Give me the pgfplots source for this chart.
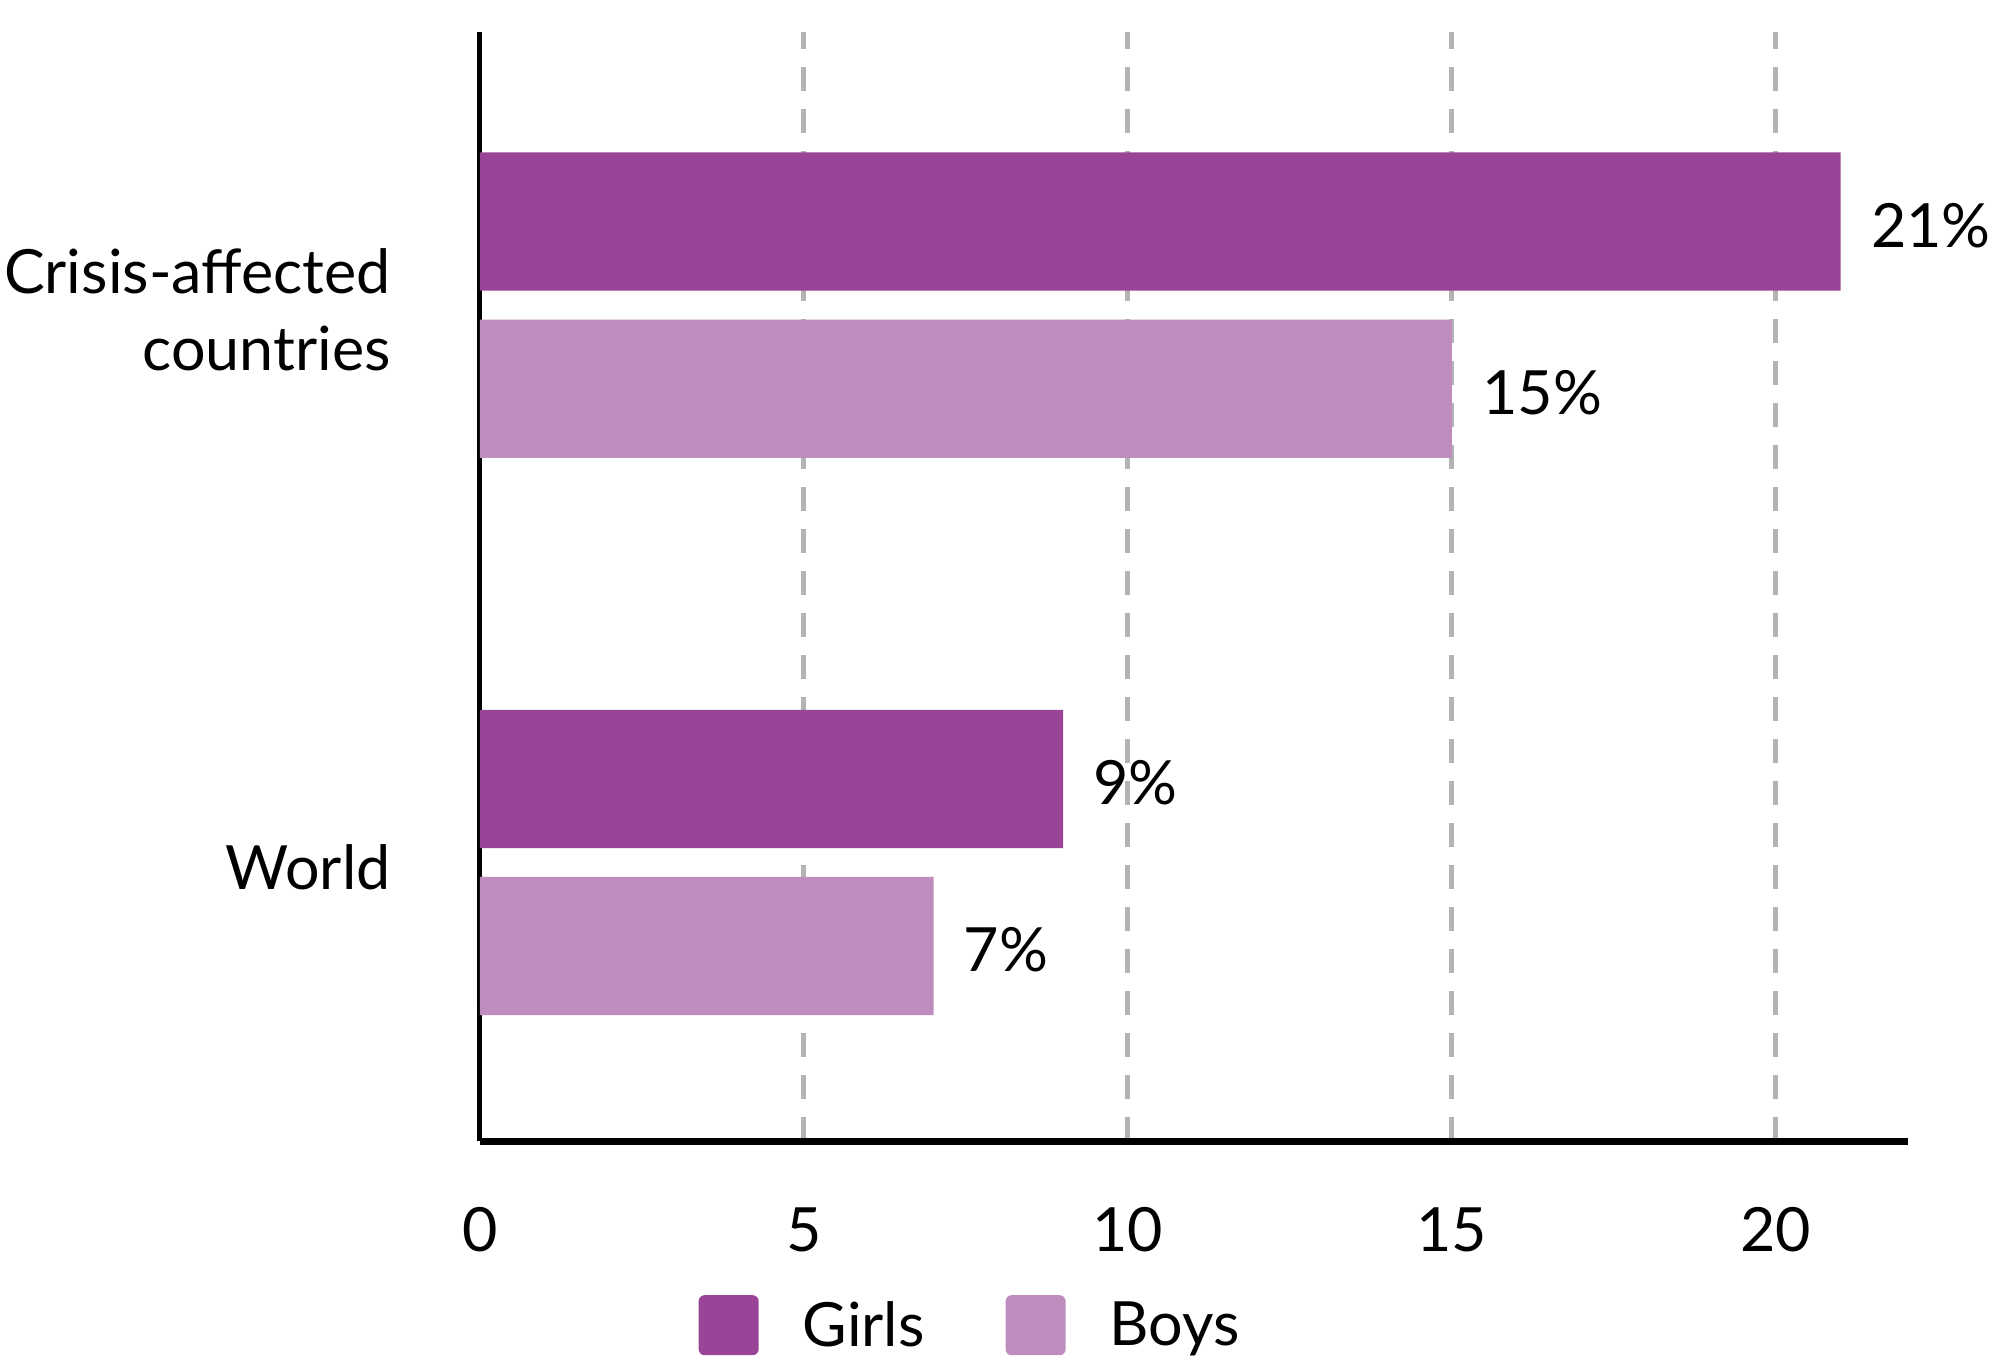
\documentclass[border=0pt]{standalone}
\usepackage{pgfplots}
\pgfplotsset{compat=1.18}
\usepackage{fontspec}
\setmainfont{Lato}
\definecolor{girls}{HTML}{994496}
\definecolor{boys}{HTML}{BF8DBD}
\definecolor{gridgray}{HTML}{B3B3B3}
\newcommand\f{\fontsize{30.5pt}{38.5pt}\selectfont}
\begin{document}
\begin{tikzpicture}[font=\f]
\begin{axis}[
  scale only axis,
  width=714pt, height=554.6pt,
  xmin=0, xmax=22.04,
  ymin=-0.5, ymax=1.49,
  xbar,
  bar width=0.248,
  axis x line*=bottom,
  axis y line*=left,
  x axis line style={line width=3.4pt, black, -},
  y axis line style={line width=2.5pt, black, -},
  xtick={0,5,10,15,20},
  ytick={0,1},
  yticklabels={World,{Crisis-affected\\countries}},
  major tick length=0pt,
  /pgf/number format/assume math mode=true,
  xticklabel style={font=\f, anchor=north, inner sep=0pt, yshift=-33pt},
  yticklabel style={font=\f, anchor=east, inner sep=0pt, xshift=-44.5pt, yshift=-2.5pt, align=right},
  xmajorgrids,
  major grid style={gridgray, line width=2.5pt, dash pattern=on 12pt off 9pt},
  nodes near coords={\pgfmathprintnumber[assume math mode=true]{\pgfplotspointmeta}\%},
  nodes near coords style={font=\f, anchor=west, inner sep=0pt, xshift=15pt, yshift=-2pt, black},
  legend columns=2,
  legend style={draw=none, fill=none, at={(0.3425,0)}, anchor=center, yshift=-92pt,
    font=\f,
    nodes={inner sep=0pt, anchor=west},
    /tikz/every odd column/.append style={column sep=22pt},
    /tikz/every even column/.append style={column sep=40.5pt}},
  legend image code/.code={\fill[#1, rounded corners=3pt] (0pt,-15pt) rectangle (30pt,15pt);},
]
\addplot[fill=girls, draw=none, bar shift=0.15] coordinates {(9,0) (21,1)};
\addlegendentry{Girls}
\addplot[fill=boys, draw=none, bar shift=-0.15] coordinates {(7,0) (15,1)};
\addlegendentry{Boys}
\end{axis}
\pgfresetboundingbox
\path[use as bounding box] (-240pt,-112pt) rectangle (756pt,570.6pt);
\end{tikzpicture}
\end{document}
